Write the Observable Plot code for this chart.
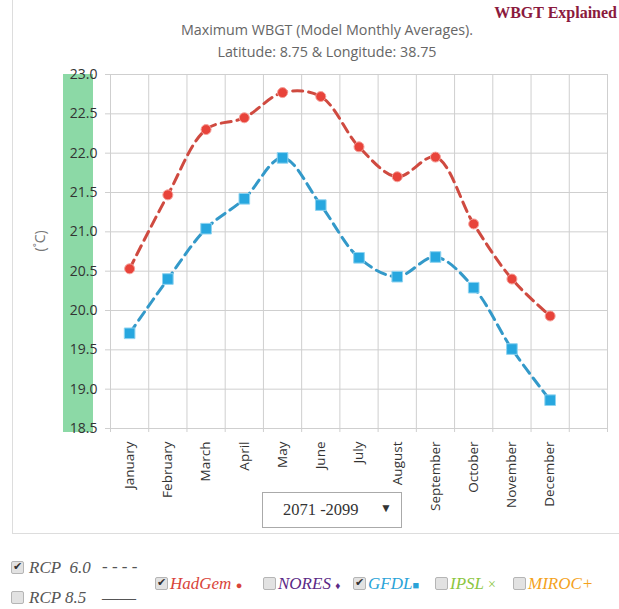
<!DOCTYPE html>
<html>
<head>
<meta charset="utf-8">
<script src="https://cdn.jsdelivr.net/npm/d3@7"></script>
<script src="https://cdn.jsdelivr.net/npm/@observablehq/plot@0.6"></script>
<style>
  html, body { margin: 0; padding: 0; background: #fff; }
  #wrap { position: relative; width: 619px; height: 609px; overflow: hidden; font-family: "Open Sans", sans-serif; }
  .abs { position: absolute; }
  #panel { left: 12px; top: 0; width: 610px; height: 534px; border-left: 1px solid #ddd; border-bottom: 1px solid #ddd; box-sizing: border-box; }
  #title { left: 77px; width: 500px; top: 19px; text-align: center; color: #666; font-size: 14.3px; line-height: 22px; }
  #explained { right: 2px; top: 4px; font-family: "Liberation Serif", serif; font-weight: bold; color: #8b1a3d; font-size: 16px; }
  #band { left: 63px; top: 74px; width: 30px; height: 358px; background: #8cd9a6; }
  #chart { left: 0; top: 62px; }
  #dropdown { left: 262px; top: 492px; width: 140px; height: 36px; border: 1px solid #aaa; box-sizing: border-box; background: #fff;
    font-family: "Liberation Serif", serif; font-size: 16.5px; color: #333; }
  #dropdown .t { position: absolute; left: 20px; top: 7px; }
  #dropdown .a { position: absolute; left: 117px; top: 8px; font-size: 12px; color: #333; }
  .leg { font-family: "Liberation Serif", serif; font-style: italic; font-size: 17px; line-height: 20px; white-space: nowrap; }
  .cb { display: inline-block; width: 11px; height: 11px; border: 1px solid #b5b5b5; border-radius: 2px; background: #e2e2e2;
    position: relative; vertical-align: -1px; margin-right: 2px; font-style: normal; }
  .cb.on::after { content: "\2714"; position: absolute; left: 1px; top: -5px; font-size: 11px; color: #333; font-family: "DejaVu Sans", sans-serif; }
  .ln { position: absolute; font-style: normal; }
</style>
</head>
<body>
<div id="wrap">
  <div id="panel" class="abs"></div>
  <div id="explained" class="abs">WBGT Explained</div>
  <div id="title" class="abs">Maximum WBGT (Model Monthly Averages).<br>Latitude: 8.75 &amp; Longitude: 38.75</div>
  <div id="band" class="abs"></div>
  <div id="chart" class="abs"></div>
  <div id="dropdown" class="abs"><span class="t">2071 -2099</span><span class="a">&#9660;</span></div>

  <div class="abs leg" style="left:11px; top:558px; color:#555;"><span class="cb on" style="margin-right:5px"></span>RCP&nbsp; 6.0</div>
  <div class="abs leg" style="left:102px; top:557px; color:#555; font-style:normal; letter-spacing:0px;">- - - -</div>
  <div class="abs leg" style="left:11px; top:588px; color:#555;"><span class="cb" style="margin-right:5px"></span>RCP 8.5</div>
  <div class="abs leg" style="left:102px; top:588px; color:#555; font-style:normal;">——</div>

  <div class="abs leg" style="left:155px; top:574px; color:#d9443a;"><span class="cb on"></span>HadGem <span style="font-style:normal;font-size:11px;">&#9679;</span></div>
  <div class="abs leg" style="left:263px; top:574px; color:#5b2a86;"><span class="cb"></span>NORES <span style="font-style:normal;font-size:10px;">&#9830;</span></div>
  <div class="abs leg" style="left:353px; top:574px; color:#2aa3d8;"><span class="cb on"></span>GFDL<span style="font-style:normal;font-size:11px;">&#9632;</span></div>
  <div class="abs leg" style="left:435px; top:574px; color:#8cc63f;"><span class="cb"></span>IPSL <span style="font-style:normal;font-size:14px;">&#215;</span></div>
  <div class="abs leg" style="left:513px; top:574px; color:#f4a21c;"><span class="cb"></span>MIROC+</div>
</div>
<script>
const months = ["January","February","March","April","May","June","July","August","September","October","November","December"];
const hadgem = [20.53, 21.47, 22.30, 22.45, 22.77, 22.72, 22.08, 21.70, 21.95, 21.10, 20.40, 19.93];
const gfdl   = [19.71, 20.40, 21.04, 21.42, 21.94, 21.34, 20.67, 20.43, 20.68, 20.29, 19.51, 18.86];
const yTicks = [18.5, 19.0, 19.5, 20.0, 20.5, 21.0, 21.5, 22.0, 22.5, 23.0];
const yLabel = "(˚C)";

const hadRows = months.map((m, i) => ({month: m, idx: i, value: hadgem[i], model: "HadGem"}));
const gfdlRows = months.map((m, i) => ({month: m, idx: i, value: gfdl[i], model: "GFDL"}));
const boundaries = d3.range(months.length + 2);
const centers = months.map((m, i) => i + 0.5);

const chart = Plot.plot({
  width: 619,
  height: 472,
  marginLeft: 110,
  marginRight: 12,
  marginTop: 12,
  marginBottom: 106,
  style: {background: "transparent", fontFamily: "Open Sans, sans-serif"},
  x: {type: "linear", domain: [0, months.length + 1], axis: null},
  y: {domain: [18.5, 23], axis: null},
  marks: [
    Plot.gridY(yTicks, {stroke: "#cfcfcf", strokeOpacity: 1, strokeWidth: 1}),
    Plot.gridX(boundaries, {stroke: "#cfcfcf", strokeOpacity: 1, strokeWidth: 1}),
    Plot.axisX(boundaries, {tickSize: 4, stroke: "#cfcfcf", tickFormat: () => ""}),
    Plot.axisY(yTicks, {tickSize: 5, tickPadding: 8, stroke: "#cfcfcf", fill: "#333", fontSize: 14,
      tickFormat: d => d.toFixed(1), label: null}),
    Plot.axisX(centers, {tickSize: 0, tickPadding: 13, tickRotate: -90, fill: "#333", fontSize: 13.5,
      tickFormat: d => months[Math.floor(d)], label: null}),
    Plot.text([yLabel], {frameAnchor: "left", dx: -70, rotate: -90, fill: "#777", fontSize: 14}),
    Plot.line(hadRows, {x: d => d.idx + 0.5, y: "value", stroke: "#cf4a40", strokeWidth: 3,
      strokeDasharray: "10,6", curve: "catmull-rom"}),
    Plot.line(gfdlRows, {x: d => d.idx + 0.5, y: "value", stroke: "#3399c9", strokeWidth: 3,
      strokeDasharray: "10,6", curve: "catmull-rom"}),
    Plot.dot(hadRows, {x: d => d.idx + 0.5, y: "value", symbol: "circle", r: 5, fill: "#e8433a", stroke: "#f5a09a", strokeWidth: 1}),
    Plot.dot(gfdlRows, {x: d => d.idx + 0.5, y: "value", symbol: "square", r: 6, fill: "#27a7df", stroke: "#8fd3f0", strokeWidth: 1})
  ]
});
document.getElementById("chart").appendChild(chart);
</script>
</body>
</html>
